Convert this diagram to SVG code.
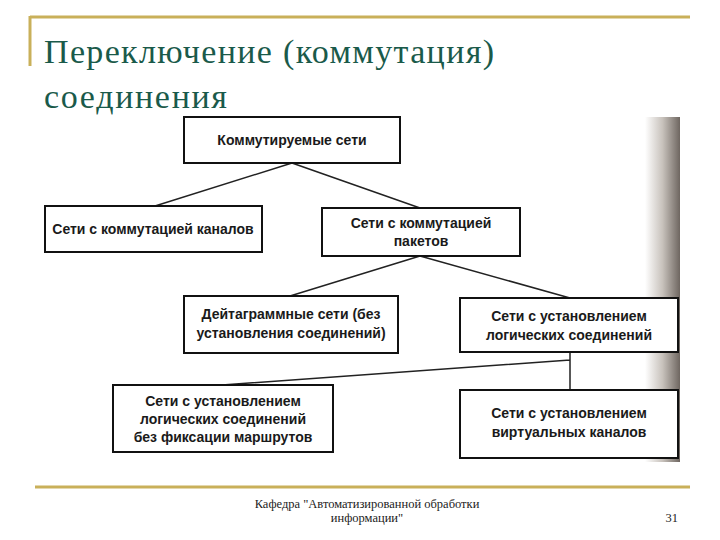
<svg xmlns="http://www.w3.org/2000/svg" width="720" height="540" viewBox="0 0 720 540">
<defs>
<linearGradient id="band" x1="0" x2="1" y1="0" y2="0">
<stop offset="0" stop-color="#ffffff"/><stop offset="0.5" stop-color="#c8c2bc"/><stop offset="1" stop-color="#6e6660"/>
</linearGradient>
</defs>
<style>
.box{fill:#fff;stroke:#111;stroke-width:2}
.t{font-family:"Liberation Sans",Arial,sans-serif;font-size:14px;font-weight:bold;fill:#1a1a1a;text-anchor:middle}
.ln{stroke:#222;stroke-width:1.5;fill:none}
.gold{stroke:#c9b05a;stroke-width:3}
.ttl{font-family:"Liberation Serif",serif;font-size:34px;fill:#1a5a4a}
.ft{font-family:"Liberation Serif",serif;font-size:12.5px;fill:#222}
</style>
<rect width="720" height="540" fill="#fff"/>
<line class="gold" x1="30" y1="17" x2="690" y2="17"/>
<line class="gold" x1="30" y1="16" x2="30" y2="66"/>
<text class="ttl" x="44" y="63" textLength="450">Переключение (коммутация)</text>
<text class="ttl" x="44" y="108" textLength="183">соединения</text>
<rect x="645" y="117" width="35" height="345" fill="url(#band)"/>
<g id="connectors">
<path class="ln" d="M292 163 L155 206 M292 163 L420 208"/>
<path class="ln" d="M420 256 L290 296 M420 256 L570 298"/>
<path class="ln" d="M570 352 L570 390 M570 360 L222 385"/>
</g>
<g id="n1"><rect class="box" x="184" y="117" width="216" height="46"/><text class="t" x="292" y="145">Коммутируемые сети</text></g>
<g id="n2"><rect class="box" x="45" y="206" width="217" height="46"/><text class="t" x="153" y="234">Сети с коммутацией каналов</text></g>
<g id="n3"><rect class="box" x="322" y="208" width="198" height="48"/><text class="t" x="421" y="228">Сети с коммутацией</text><text class="t" x="421" y="246">пакетов</text></g>
<g id="n4"><rect class="box" x="184" y="296" width="214" height="57"/><text class="t" x="291" y="319">Дейтаграммные сети (без</text><text class="t" x="291" y="338">установления соединений)</text></g>
<g id="n5"><rect class="box" x="460" y="298" width="218" height="54"/><text class="t" x="569" y="321">Сети с установлением</text><text class="t" x="569" y="340">логических соединений</text></g>
<g id="n6"><rect class="box" x="113" y="385" width="220" height="67"/><text class="t" x="223" y="406">Сети с установлением</text><text class="t" x="223" y="424">логических соединений</text><text class="t" x="223" y="442">без фиксации маршрутов</text></g>
<g id="n7"><rect class="box" x="460" y="390" width="218" height="68"/><text class="t" x="569" y="418">Сети с установлением</text><text class="t" x="569" y="437">виртуальных каналов</text></g>
<line class="gold" x1="35" y1="487" x2="690" y2="487"/>
<text class="ft" x="367" y="508" text-anchor="middle">Кафедра "Автоматизированной обработки</text>
<text class="ft" x="367" y="522" text-anchor="middle">информации"</text>
<text class="ft" x="678" y="522" text-anchor="end">31</text>
</svg>
